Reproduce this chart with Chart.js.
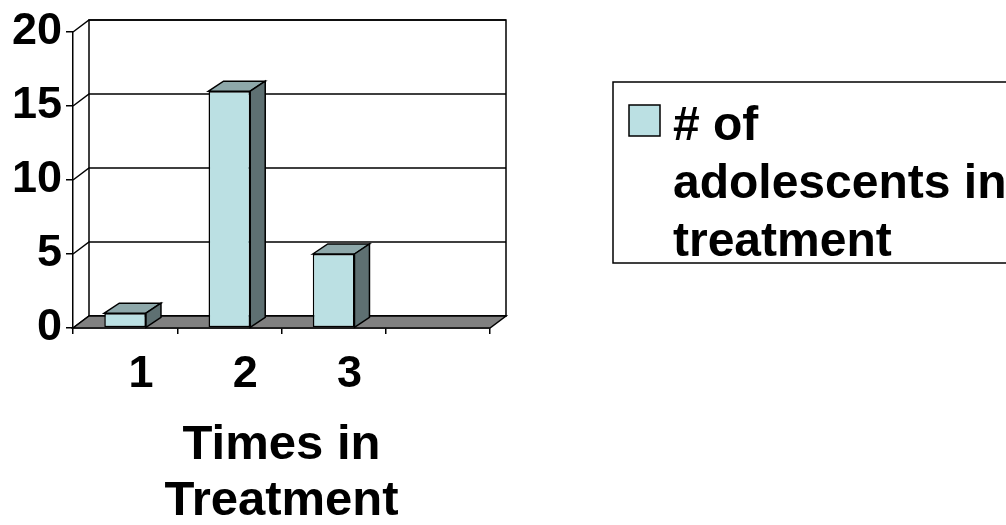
<!DOCTYPE html>
<html>
<head>
<meta charset="utf-8">
<script src="https://cdn.jsdelivr.net/npm/chart.js@4"></script>
<style>
  html, body { margin: 0; padding: 0; background: #fff; }
  canvas { display: block; }
</style>
</head>
<body>
<canvas id="chart" width="1006" height="525"></canvas>
<script>
const categories = ['1', '2', '3', ''];
const adolescents = [1, 16, 5, null];
const yTicks = [0, 5, 10, 15, 20];
const seriesName = '# of adolescents in treatment';
const legendLines = ['# of', 'adolescents in', 'treatment'];
const axisTitle = ['Times in', 'Treatment'];

const FRONT = '#bbe0e3', TOP = '#8ea8aa', SIDE = '#5e7072', FLOOR = '#808080';
const WALL_DX = 16, WALL_DY = 12, BAR_DX = 15, BAR_DY = 10;
const FONT = '"Liberation Sans", Arial, sans-serif';

function poly(ctx, pts, fill) {
  ctx.beginPath();
  ctx.moveTo(pts[0][0], pts[0][1]);
  for (let i = 1; i < pts.length; i++) ctx.lineTo(pts[i][0], pts[i][1]);
  ctx.closePath();
  if (fill) { ctx.fillStyle = fill; ctx.fill(); }
  ctx.stroke();
}

// fake 3d: back wall, floor, bar tops/sides, and the wrapped legend
const box3d = {
  id: 'box3d',
  beforeDatasetsDraw(chart) {
    const { ctx, chartArea: a, scales: { y } } = chart;
    ctx.save();
    ctx.strokeStyle = '#000';
    ctx.lineWidth = 1.5;
    poly(ctx, [[a.left + WALL_DX, a.top - WALL_DY], [a.right + WALL_DX, a.top - WALL_DY],
               [a.right + WALL_DX, a.bottom - WALL_DY], [a.left + WALL_DX, a.bottom - WALL_DY]], '#fff');
    yTicks.forEach(v => {
      const py = y.getPixelForValue(v);
      ctx.beginPath();
      ctx.moveTo(a.left, py);
      ctx.lineTo(a.left + WALL_DX, py - WALL_DY);
      ctx.lineTo(a.right + WALL_DX, py - WALL_DY);
      ctx.stroke();
    });
    poly(ctx, [[a.left, a.bottom], [a.right, a.bottom],
               [a.right + WALL_DX, a.bottom - WALL_DY], [a.left + WALL_DX, a.bottom - WALL_DY]], FLOOR);
    ctx.restore();
  },
  afterDatasetsDraw(chart) {
    const ctx = chart.ctx;
    ctx.save();
    ctx.strokeStyle = '#000';
    ctx.lineWidth = 1.5;
    chart.getDatasetMeta(0).data.forEach((bar, i) => {
      if (adolescents[i] == null) return;
      const { x, y, base, width } = bar.getProps(['x', 'y', 'base', 'width'], true);
      const l = x - width / 2, r = x + width / 2;
      poly(ctx, [[l, y], [l + BAR_DX, y - BAR_DY], [r + BAR_DX, y - BAR_DY], [r, y]], TOP);
      poly(ctx, [[r, y], [r + BAR_DX, y - BAR_DY], [r + BAR_DX, base - BAR_DY], [r, base]], SIDE);
    });
    ctx.restore();
  },
  afterDraw(chart) {
    const ctx = chart.ctx;
    ctx.save();
    ctx.strokeStyle = '#000';
    ctx.lineWidth = 1.5;
    ctx.strokeRect(613, 82, 420, 181);
    ctx.fillStyle = chart.data.datasets[0].backgroundColor;
    ctx.fillRect(629, 105, 31, 31);
    ctx.strokeRect(629, 105, 31, 31);
    ctx.fillStyle = '#000';
    ctx.font = 'bold 48px ' + FONT;
    ctx.textBaseline = 'alphabetic';
    legendLines.forEach((t, i) => ctx.fillText(t, 673, 140 + i * 58));
    ctx.restore();
  }
};

new Chart(document.getElementById('chart'), {
  type: 'bar',
  data: {
    labels: categories,
    datasets: [{
      label: seriesName,
      data: adolescents,
      backgroundColor: FRONT,
      borderColor: '#000',
      borderWidth: 1.5,
      borderSkipped: false,
      barPercentage: 0.4,
      categoryPercentage: 1.0
    }]
  },
  options: {
    responsive: false,
    animation: false,
    devicePixelRatio: 1,
    layout: { padding: { left: 0, top: 32, right: 516, bottom: 0 } },
    plugins: { legend: { display: false }, tooltip: { enabled: false } },
    scales: {
      x: {
        grid: { drawOnChartArea: false, offset: true, color: '#000', lineWidth: 1.5, tickLength: 6 },
        border: { display: true, color: '#000', width: 1.5 },
        ticks: { color: '#000', font: { family: FONT, size: 45, weight: 'bold' }, padding: 14, labelOffset: 16 },
        title: {
          display: true, text: axisTitle, color: '#000',
          font: { family: FONT, size: 49, weight: 'bold', lineHeight: 1.15 },
          padding: { top: 0, bottom: -5 }
        },
        afterFit: s => { s.height = 197; }
      },
      y: {
        min: 0, max: 20,
        grid: { drawOnChartArea: false, color: '#000', lineWidth: 1.5, tickLength: 7 },
        border: { display: true, color: '#000', width: 1.5 },
        ticks: { stepSize: 5, color: '#000', font: { family: FONT, size: 45, weight: 'bold' }, padding: 4 },
        afterFit: s => { s.width = 73; }
      }
    }
  },
  plugins: [box3d]
});
</script>
</body>
</html>
